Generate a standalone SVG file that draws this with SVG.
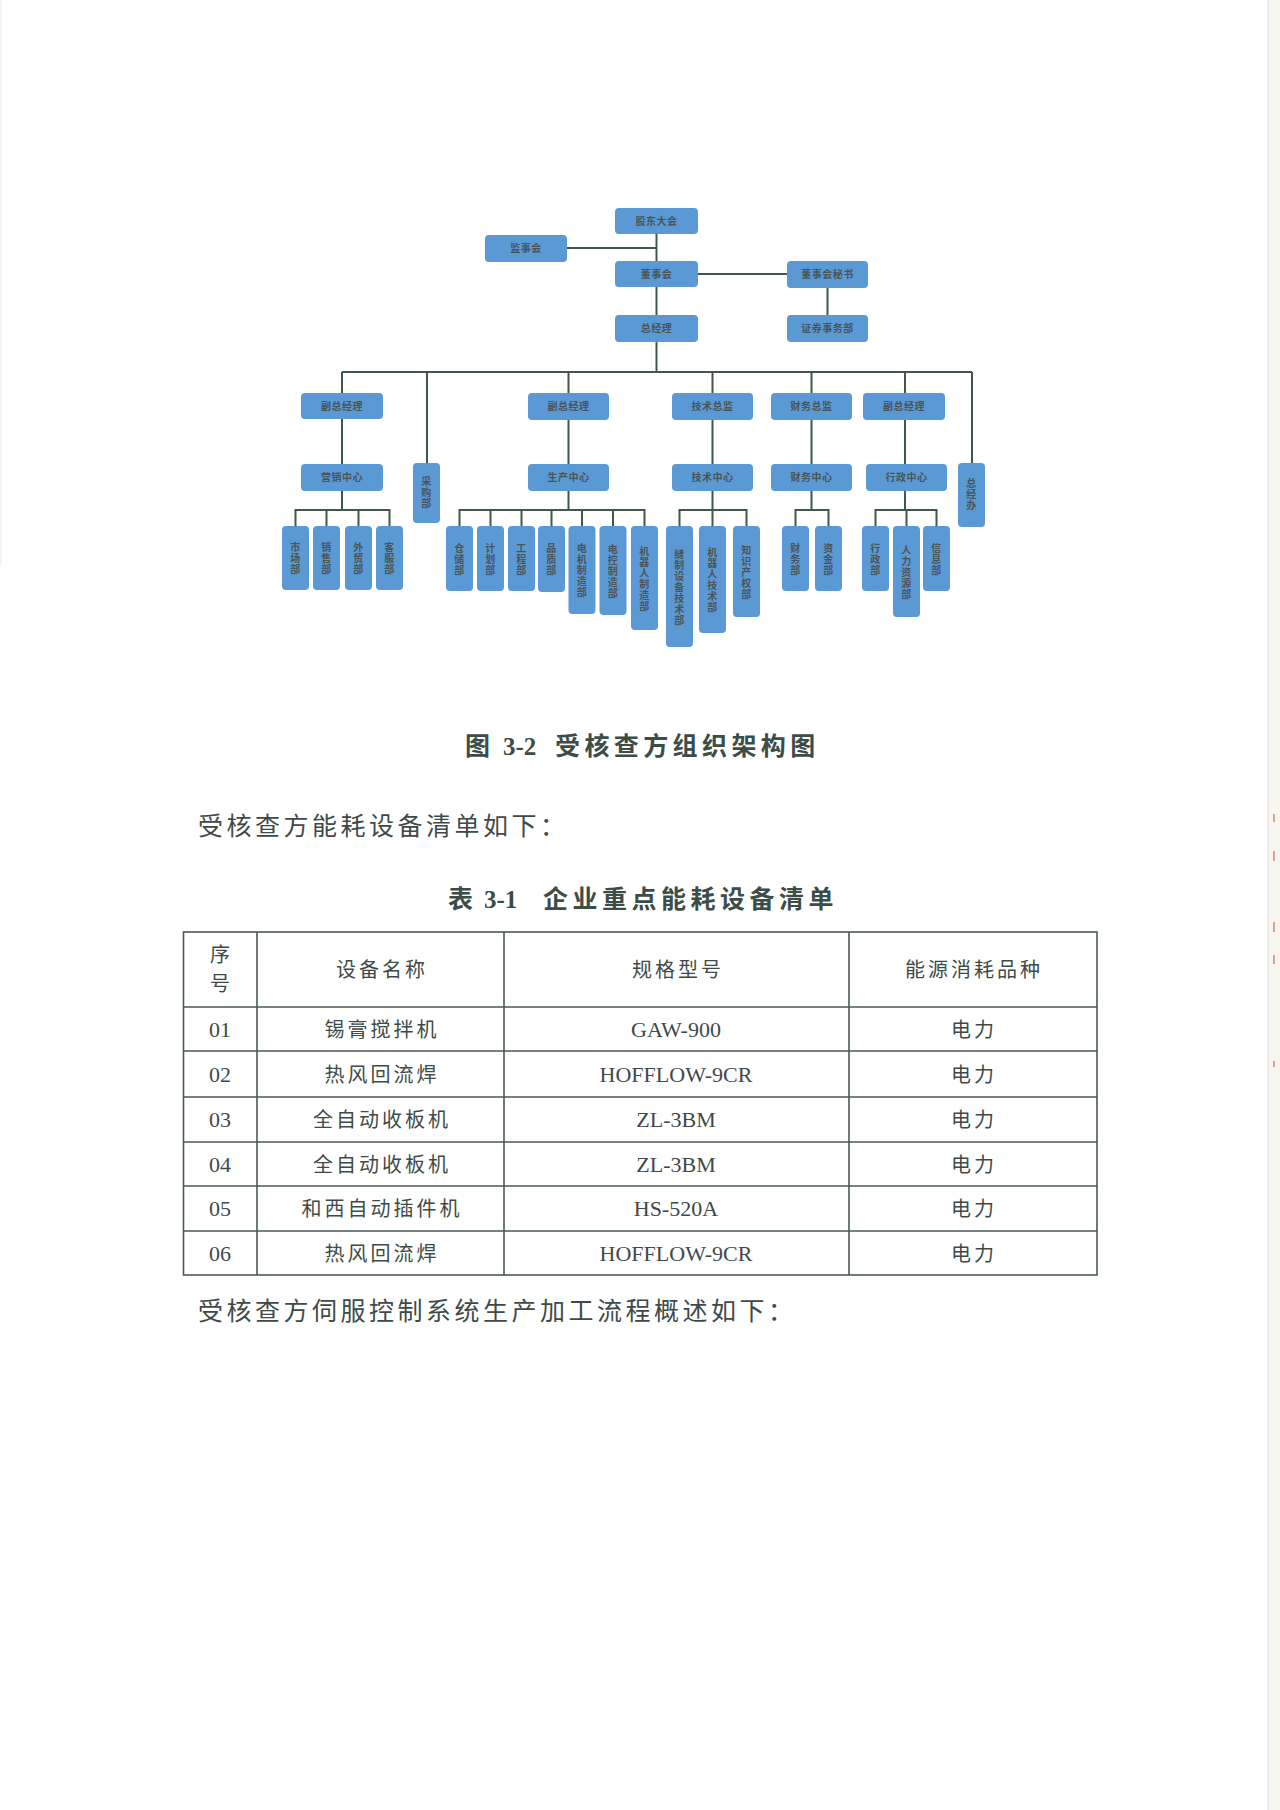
<svg xmlns="http://www.w3.org/2000/svg" width="1280" height="1810" viewBox="0 0 1280 1810">
<style>
.bx{fill:#5b99d5;}
.lb{font-family:"Liberation Serif","Noto Sans CJK SC",serif;font-size:10px;font-weight:bold;fill:#4a5456;text-anchor:middle;letter-spacing:0.5px;}
.cn{fill:none;stroke:#3f574f;stroke-width:2;}
.cap{font-family:"Liberation Serif","Noto Sans CJK SC",serif;font-size:25px;font-weight:bold;fill:#3c4c47;}
.para{font-family:"Liberation Serif","Noto Sans CJK SC",serif;font-size:25px;fill:#3f4a48;letter-spacing:3.5px;}
.tc{font-family:"Liberation Serif","Noto Sans CJK SC",serif;font-size:20px;fill:#3f4a48;text-anchor:middle;letter-spacing:3px;}
.tn{font-family:"Liberation Serif","Noto Sans CJK SC",serif;font-size:22px;fill:#3f4a48;text-anchor:middle;}
.tl{stroke:#4a5a55;stroke-width:1.6;fill:none;}
</style>
<rect x="0" y="0" width="1280" height="1810" fill="#ffffff"/>
<rect x="1268" y="0" width="12" height="1810" fill="#f7f6f0"/>
<line x1="1268" y1="0" x2="1268" y2="1810" stroke="#dddcd6" stroke-width="1"/>
<line x1="1" y1="0" x2="1" y2="565" stroke="#e8e8e6" stroke-width="1"/>
<g id="scan-marks" stroke="#e0806a" stroke-width="1.5">
<line x1="1274" y1="814" x2="1274" y2="822"/>
<line x1="1274" y1="851" x2="1274" y2="861"/>
<line x1="1274" y1="922" x2="1274" y2="932"/>
<line x1="1274" y1="955" x2="1274" y2="964"/>
<line x1="1274" y1="1061" x2="1274" y2="1067"/>
</g>

<g id="connectors" class="cn">
<path d="M656.5 234V372"/>
<path d="M567 248H656.5"/>
<path d="M698 274H787"/>
<path d="M827.5 288V315"/>
<path d="M342 372H972"/>
<path d="M342 372V464M427 372V463M568.5 372V464M712.5 372V464M811.5 372V464M905 372V464M972 372V463"/>
<path d="M342 491V510M568.5 491V510M712.5 491V510M811.5 491V510M905 491V510"/>
<path d="M295.5 526V510H389.5V526M326.5 510V526M358.5 510V526"/>
<path d="M459.5 526V510H644.5V526M490.5 510V526M521.5 510V526M551.5 510V526M582 510V526M613 510V526"/>
<path d="M679.5 526V510H746.5V526M712.5 510V526"/>
<path d="M795.5 526V510H828.5V526"/>
<path d="M875.5 526V510H936.5V526M906.5 510V526"/>
</g>

<g id="n-gudong"><rect class="bx" x="615" y="208" width="83" height="26" rx="4"/><text class="lb" x="656.5" y="224.5">股东大会</text></g>
<g id="n-jianshi"><rect class="bx" x="485" y="235" width="82" height="27" rx="4"/><text class="lb" x="526" y="252">监事会</text></g>
<g id="n-dongshi"><rect class="bx" x="615" y="261" width="83" height="26" rx="4"/><text class="lb" x="656.5" y="277.5">董事会</text></g>
<g id="n-mishu"><rect class="bx" x="787" y="261" width="81" height="27" rx="4"/><text class="lb" x="827.5" y="278">董事会秘书</text></g>
<g id="n-zongjingli"><rect class="bx" x="615" y="315" width="83" height="27" rx="4"/><text class="lb" x="656.5" y="332">总经理</text></g>
<g id="n-zhengquan"><rect class="bx" x="787" y="315" width="81" height="27" rx="4"/><text class="lb" x="827.5" y="332">证券事务部</text></g>

<g id="n-fuzong1"><rect class="bx" x="301" y="393" width="82" height="26" rx="4"/><text class="lb" x="342" y="409.5">副总经理</text></g>
<g id="n-fuzong2"><rect class="bx" x="528" y="393" width="81" height="27" rx="4"/><text class="lb" x="568.5" y="410">副总经理</text></g>
<g id="n-jishuzongjian"><rect class="bx" x="672" y="393" width="81" height="27" rx="4"/><text class="lb" x="712.5" y="410">技术总监</text></g>
<g id="n-caiwuzongjian"><rect class="bx" x="771" y="393" width="81" height="27" rx="4"/><text class="lb" x="811.5" y="410">财务总监</text></g>
<g id="n-fuzong3"><rect class="bx" x="863" y="393" width="82" height="27" rx="4"/><text class="lb" x="904" y="410">副总经理</text></g>

<g id="n-yingxiao"><rect class="bx" x="301" y="464" width="82" height="27" rx="4"/><text class="lb" x="342" y="481">营销中心</text></g>
<g id="n-shengchan"><rect class="bx" x="528" y="464" width="81" height="27" rx="4"/><text class="lb" x="568.5" y="481">生产中心</text></g>
<g id="n-jishu"><rect class="bx" x="672" y="464" width="81" height="27" rx="4"/><text class="lb" x="712.5" y="481">技术中心</text></g>
<g id="n-caiwu"><rect class="bx" x="771" y="464" width="81" height="27" rx="4"/><text class="lb" x="811.5" y="481">财务中心</text></g>
<g id="n-xingzheng"><rect class="bx" x="866" y="464" width="81" height="27" rx="4"/><text class="lb" x="906.5" y="481">行政中心</text></g>

<g id="n-caigou"><rect class="bx" x="413" y="463" width="27" height="60" rx="4"/><text class="lb" x="426.5" y="485">采<tspan x="426.5" dy="11">购</tspan><tspan x="426.5" dy="11">部</tspan></text></g>
<g id="n-zongjingban"><rect class="bx" x="958" y="463" width="27" height="64" rx="4"/><text class="lb" x="971.5" y="487">总<tspan x="971.5" dy="11">经</tspan><tspan x="971.5" dy="11">办</tspan></text></g>

<g id="n-shichang"><rect class="bx" x="282" y="526" width="27" height="64" rx="4"/><text class="lb" x="295.5" y="551">市<tspan x="295.5" dy="11">场</tspan><tspan x="295.5" dy="11">部</tspan></text></g>
<g id="n-xiaoshou"><rect class="bx" x="313" y="526" width="27" height="64" rx="4"/><text class="lb" x="326.5" y="551">销<tspan x="326.5" dy="11">售</tspan><tspan x="326.5" dy="11">部</tspan></text></g>
<g id="n-waimao"><rect class="bx" x="345" y="526" width="27" height="64" rx="4"/><text class="lb" x="358.5" y="551">外<tspan x="358.5" dy="11">贸</tspan><tspan x="358.5" dy="11">部</tspan></text></g>
<g id="n-kefu"><rect class="bx" x="376" y="526" width="27" height="64" rx="4"/><text class="lb" x="389.5" y="551">客<tspan x="389.5" dy="11">服</tspan><tspan x="389.5" dy="11">部</tspan></text></g>

<g id="n-cangchu"><rect class="bx" x="446" y="526" width="27" height="65" rx="4"/><text class="lb" x="459.5" y="551.5">仓<tspan x="459.5" dy="11">储</tspan><tspan x="459.5" dy="11">部</tspan></text></g>
<g id="n-jihua"><rect class="bx" x="477" y="526" width="27" height="65" rx="4"/><text class="lb" x="490.5" y="551.5">计<tspan x="490.5" dy="11">划</tspan><tspan x="490.5" dy="11">部</tspan></text></g>
<g id="n-gongcheng"><rect class="bx" x="508" y="526" width="27" height="65" rx="4"/><text class="lb" x="521.5" y="551.5">工<tspan x="521.5" dy="11">程</tspan><tspan x="521.5" dy="11">部</tspan></text></g>
<g id="n-pinzhi"><rect class="bx" x="538" y="526" width="27" height="66" rx="4"/><text class="lb" x="551.5" y="552">品<tspan x="551.5" dy="11">质</tspan><tspan x="551.5" dy="11">部</tspan></text></g>
<g id="n-dianji"><rect class="bx" x="568.5" y="526" width="27" height="88" rx="4"/><text class="lb" x="582" y="552">电<tspan x="582" dy="11">机</tspan><tspan x="582" dy="11">制</tspan><tspan x="582" dy="11">造</tspan><tspan x="582" dy="11">部</tspan></text></g>
<g id="n-diankong"><rect class="bx" x="599.5" y="526" width="27" height="89" rx="4"/><text class="lb" x="613" y="552.5">电<tspan x="613" dy="11">控</tspan><tspan x="613" dy="11">制</tspan><tspan x="613" dy="11">造</tspan><tspan x="613" dy="11">部</tspan></text></g>
<g id="n-jiqirenzhizao"><rect class="bx" x="631" y="526" width="27" height="104" rx="4"/><text class="lb" x="644.5" y="554.5">机<tspan x="644.5" dy="11">器</tspan><tspan x="644.5" dy="11">人</tspan><tspan x="644.5" dy="11">制</tspan><tspan x="644.5" dy="11">造</tspan><tspan x="644.5" dy="11">部</tspan></text></g>

<g id="n-fengzhi"><rect class="bx" x="666" y="526" width="27" height="121" rx="4"/><text class="lb" x="679.5" y="557.5">缝<tspan x="679.5" dy="11">制</tspan><tspan x="679.5" dy="11">设</tspan><tspan x="679.5" dy="11">备</tspan><tspan x="679.5" dy="11">技</tspan><tspan x="679.5" dy="11">术</tspan><tspan x="679.5" dy="11">部</tspan></text></g>
<g id="n-jiqirenjishu"><rect class="bx" x="699" y="526" width="27" height="107" rx="4"/><text class="lb" x="712.5" y="556">机<tspan x="712.5" dy="11">器</tspan><tspan x="712.5" dy="11">人</tspan><tspan x="712.5" dy="11">技</tspan><tspan x="712.5" dy="11">术</tspan><tspan x="712.5" dy="11">部</tspan></text></g>
<g id="n-zhishi"><rect class="bx" x="733" y="526" width="27" height="91" rx="4"/><text class="lb" x="746.5" y="553.5">知<tspan x="746.5" dy="11">识</tspan><tspan x="746.5" dy="11">产</tspan><tspan x="746.5" dy="11">权</tspan><tspan x="746.5" dy="11">部</tspan></text></g>

<g id="n-caiwubu"><rect class="bx" x="782" y="526" width="27" height="65" rx="4"/><text class="lb" x="795.5" y="551.5">财<tspan x="795.5" dy="11">务</tspan><tspan x="795.5" dy="11">部</tspan></text></g>
<g id="n-zijin"><rect class="bx" x="815" y="526" width="27" height="65" rx="4"/><text class="lb" x="828.5" y="551.5">资<tspan x="828.5" dy="11">金</tspan><tspan x="828.5" dy="11">部</tspan></text></g>

<g id="n-xingzhengbu"><rect class="bx" x="862" y="526" width="27" height="65" rx="4"/><text class="lb" x="875.5" y="551.5">行<tspan x="875.5" dy="11">政</tspan><tspan x="875.5" dy="11">部</tspan></text></g>
<g id="n-renli"><rect class="bx" x="893" y="526" width="27" height="91" rx="4"/><text class="lb" x="906.5" y="553.5">人<tspan x="906.5" dy="11">力</tspan><tspan x="906.5" dy="11">资</tspan><tspan x="906.5" dy="11">源</tspan><tspan x="906.5" dy="11">部</tspan></text></g>
<g id="n-xinxi"><rect class="bx" x="923" y="526" width="27" height="65" rx="4"/><text class="lb" x="936.5" y="551.5">信<tspan x="936.5" dy="11">息</tspan><tspan x="936.5" dy="11">部</tspan></text></g>

<g id="captions">
<text class="cap" y="755"><tspan x="465">图</tspan><tspan x="503">3-2</tspan><tspan x="555" letter-spacing="4.4">受核查方组织架构图</tspan></text>
<text class="para" x="198" y="835">受核查方能耗设备清单如下：</text>
<text class="cap" y="908"><tspan x="448">表</tspan><tspan x="484">3-1</tspan><tspan x="543" letter-spacing="4.5">企业重点能耗设备清单</tspan></text>
<text class="para" x="198" y="1320">受核查方伺服控制系统生产加工流程概述如下：</text>
</g>

<g id="table">
<rect class="tl" x="183.5" y="932" width="913.5" height="343"/>
<path class="tl" d="M257 932V1275M504 932V1275M849 932V1275"/>
<path class="tl" d="M183.5 1007H1097M183.5 1051H1097M183.5 1097H1097M183.5 1142H1097M183.5 1186H1097M183.5 1231H1097"/>
<text class="tc" x="221.5" y="962">序</text>
<text class="tc" x="221.5" y="991">号</text>
<text class="tc" x="382" y="977">设备名称</text>
<text class="tc" x="678" y="977">规格型号</text>
<text class="tc" x="974" y="977">能源消耗品种</text>

<text class="tn" x="220" y="1037">01</text><text class="tc" x="382" y="1036.5">锡膏搅拌机</text><text class="tn" x="676" y="1037">GAW-900</text><text class="tc" x="974" y="1036.5">电力</text>
<text class="tn" x="220" y="1082">02</text><text class="tc" x="382" y="1081.5">热风回流焊</text><text class="tn" x="676" y="1082">HOFFLOW-9CR</text><text class="tc" x="974" y="1081.5">电力</text>
<text class="tn" x="220" y="1127">03</text><text class="tc" x="382" y="1127">全自动收板机</text><text class="tn" x="676" y="1127">ZL-3BM</text><text class="tc" x="974" y="1127">电力</text>
<text class="tn" x="220" y="1171.5">04</text><text class="tc" x="382" y="1171.5">全自动收板机</text><text class="tn" x="676" y="1171.5">ZL-3BM</text><text class="tc" x="974" y="1171.5">电力</text>
<text class="tn" x="220" y="1216">05</text><text class="tc" x="382" y="1216">和西自动插件机</text><text class="tn" x="676" y="1216">HS-520A</text><text class="tc" x="974" y="1216">电力</text>
<text class="tn" x="220" y="1260.5">06</text><text class="tc" x="382" y="1260.5">热风回流焊</text><text class="tn" x="676" y="1260.5">HOFFLOW-9CR</text><text class="tc" x="974" y="1260.5">电力</text>
</g>
</svg>
